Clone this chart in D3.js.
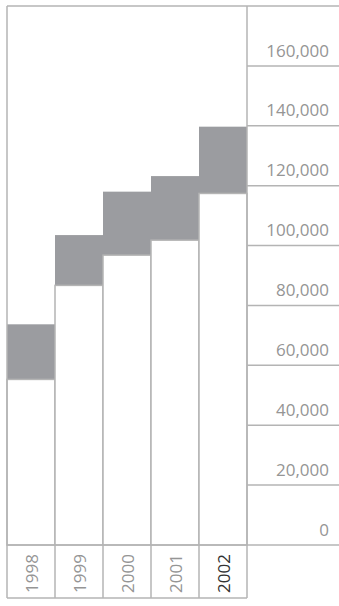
<!DOCTYPE html>
<html>
<head>
<meta charset="utf-8">
<script src="https://cdn.jsdelivr.net/npm/d3@7"></script>
<style>
  html, body { margin: 0; padding: 0; background: #fff; }
  svg { display: block; }
  text { font-family: "Open Sans", sans-serif; }
</style>
</head>
<body>
<svg id="chart" width="339" height="606"></svg>
<script>
// Years shown along the bottom row
const years = ["1998", "1999", "2000", "2001", "2002"];
// Lower (white) part of each column
const baseValues = [55300, 86700, 96800, 101800, 117400];
// Top of each column (white part + grey increment)
const totalValues = [73700, 103500, 118000, 123200, 139700];
// Value axis ticks
const tickValues = [0, 20000, 40000, 60000, 80000, 100000, 120000, 140000, 160000];

const W = 339, H = 606;
const frameLeft = 7, plotRight = 247, frameTop = 6, zeroY = 545, frameBottom = 598;
const lineColor = "#b4b4b4";
const fillColor = "#9b9ca0";
const labelColor = "#959595";
const fontSize = "17px";

const svg = d3.select("#chart");

const x = d3.scaleBand().domain(years).range([frameLeft, plotRight]).paddingInner(0).paddingOuter(0);
const y = d3.scaleLinear().domain([0, 180000]).range([zeroY, frameTop]);

// Grid lines and labels on the right-hand panel
const axis = d3.axisLeft(y)
  .tickValues(tickValues)
  .tickSize(0)
  .tickFormat(d3.format(","));

const g = svg.append("g").attr("transform", `translate(${W - 10},0)`).call(axis);
g.select(".domain").remove();
g.selectAll(".tick text")
  .attr("x", 0)
  .attr("dy", "-0.58em")
  .attr("fill", labelColor)
  .style("font-size", fontSize)
  .style("font-family", "'Open Sans', sans-serif");

svg.append("g").selectAll("line")
  .data(tickValues.filter(d => d > 0))
  .join("line")
  .attr("x1", plotRight).attr("x2", W)
  .attr("y1", d => y(d)).attr("y2", d => y(d))
  .attr("stroke", lineColor).attr("stroke-width", 1.5);

// Grey increments
svg.append("g").selectAll("rect")
  .data(years)
  .join("rect")
  .attr("x", d => x(d))
  .attr("width", x.bandwidth())
  .attr("y", (d, i) => y(totalValues[i]))
  .attr("height", (d, i) => y(baseValues[i]) - y(totalValues[i]))
  .attr("fill", fillColor);

// White base columns
svg.append("g").selectAll("rect")
  .data(years)
  .join("rect")
  .attr("x", d => x(d))
  .attr("width", x.bandwidth())
  .attr("y", (d, i) => y(baseValues[i]))
  .attr("height", (d, i) => y(0) - y(baseValues[i]))
  .attr("fill", "#fff")
  .attr("stroke", lineColor)
  .attr("stroke-width", 1.5);

// Frame
const frame = svg.append("g").attr("stroke", lineColor).attr("stroke-width", 1.5).attr("fill", "none");
frame.append("line").attr("x1", frameLeft).attr("x2", W).attr("y1", frameTop).attr("y2", frameTop);
frame.append("line").attr("x1", frameLeft).attr("x2", frameLeft).attr("y1", frameTop).attr("y2", frameBottom);
frame.append("line").attr("x1", plotRight).attr("x2", plotRight).attr("y1", frameTop).attr("y2", frameBottom);
frame.append("line").attr("x1", frameLeft).attr("x2", W).attr("y1", zeroY).attr("y2", zeroY);
frame.append("line").attr("x1", frameLeft).attr("x2", plotRight).attr("y1", frameBottom).attr("y2", frameBottom);
frame.selectAll("line.div")
  .data(years.slice(1))
  .join("line")
  .attr("class", "div")
  .attr("x1", d => x(d)).attr("x2", d => x(d))
  .attr("y1", zeroY).attr("y2", frameBottom);

// Year labels, rotated
svg.append("g").selectAll("text")
  .data(years)
  .join("text")
  .attr("transform", d => `translate(${x(d) + x.bandwidth() / 2 + 7},${(zeroY + frameBottom) / 2 + 2}) rotate(-90)`)
  .attr("text-anchor", "middle")
  .attr("fill", (d, i) => i === years.length - 1 ? "#333" : labelColor)
  .style("font-size", fontSize)
  .text(d => d);
</script>
</body>
</html>
